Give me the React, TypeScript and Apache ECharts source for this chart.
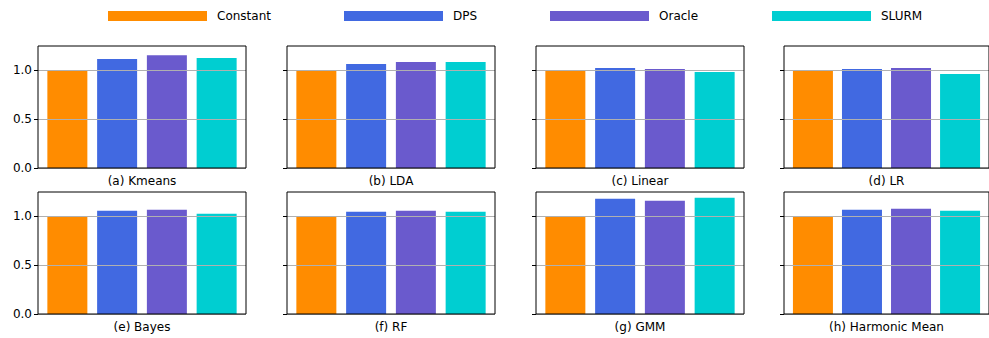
import React, { useEffect, useRef } from "react";
import * as echarts from "echarts";

const methods = ["Constant", "DPS", "Oracle", "SLURM"];
const colors = ["#ff8c00", "#4169e1", "#6a5acd", "#00ced1"];
const panelTitles = [
  "(a) Kmeans",
  "(b) LDA",
  "(c) Linear",
  "(d) LR",
  "(e) Bayes",
  "(f) RF",
  "(g) GMM",
  "(h) Harmonic Mean",
];
const kmeans = [1.0, 1.116, 1.156, 1.126];
const lda = [1.0, 1.065, 1.085, 1.085];
const linear = [1.0, 1.024, 1.014, 0.983];
const lr = [1.0, 1.014, 1.024, 0.963];
const bayes = [1.0, 1.058, 1.068, 1.027];
const rf = [1.0, 1.048, 1.058, 1.048];
const gmm = [1.0, 1.18, 1.16, 1.19];
const harmonic = [1.0, 1.068, 1.078, 1.058];
const panelValues = [kmeans, lda, linear, lr, bayes, rf, gmm, harmonic];
const yTicks = [0, 0.5, 1.0];

const colLefts = [38, 287, 536, 784];
const rowTops = [46, 192];
const gridW = 208;
const gridH = 122;
const legendLefts = [103, 339, 545, 767];

export default function App() {
  const ref = useRef<HTMLDivElement>(null);
  useEffect(() => {
    if (!ref.current) return;
    const chart = echarts.init(ref.current, undefined, { renderer: "svg" });
    const font = "DejaVu Sans";
    const grids: any[] = [];
    const xAxes: any[] = [];
    const yAxes: any[] = [];
    const series: any[] = [];
    panelValues.forEach((vals, p) => {
      const r = Math.floor(p / 4);
      const c = p % 4;
      grids.push({
        left: colLefts[c],
        top: rowTops[r],
        width: gridW,
        height: gridH,
        show: true,
        borderColor: "#000",
        borderWidth: 1,
        backgroundColor: "transparent",
        z: 4,
      });
      xAxes.push({
        type: "value",
        gridIndex: p,
        min: -0.59,
        max: 3.59,
        axisLine: { show: false, onZero: false },
        axisTick: { show: false },
        axisLabel: { show: false },
        splitLine: { show: false },
        name: panelTitles[p],
        nameLocation: "middle",
        nameGap: 7,
        nameTextStyle: { fontFamily: font, fontSize: 12, color: "#000", verticalAlign: "top" },
      });
      yAxes.push({
        type: "value",
        gridIndex: p,
        min: 0,
        max: 1.25,
        interval: 0.5,
        z: 3,
        axisLine: { show: false, onZero: false },
        axisTick: {
          show: true,
          length: 4,
          lineStyle: { color: "#000", width: 1 },
          customValues: yTicks,
        },
        axisLabel: {
          show: c === 0,
          margin: 6,
          fontFamily: font,
          fontSize: 12,
          color: "#000",
          customValues: yTicks,
          formatter: (v: number) => v.toFixed(1),
        },
        splitLine: { show: true, lineStyle: { color: "#b0b0b0", width: 1 } },
      });
      methods.forEach((m, i) => {
        series.push({
          type: "bar",
          name: m,
          xAxisIndex: p,
          yAxisIndex: p,
          barWidth: 40,
          barGap: "-100%",
          z: 2,
          itemStyle: { color: colors[i] },
          data: [[i, vals[i]]],
        });
      });
    });
    const legends = methods.map((m, i) => ({
      data: [m],
      left: legendLefts[i],
      top: 5,
      itemWidth: 99,
      itemHeight: 10,
      icon: "rect",
      itemStyle: { borderWidth: 0 },
      textStyle: { fontFamily: font, fontSize: 12, color: "#000", padding: [0, 0, 0, 5] },
      selectedMode: false,
    }));
    chart.setOption({
      animation: false,
      backgroundColor: "#fff",
      textStyle: { fontFamily: font },
      legend: legends,
      grid: grids,
      xAxis: xAxes,
      yAxis: yAxes,
      series,
    });
    return () => chart.dispose();
  }, []);
  return (
    <div
      ref={ref}
      style={{ position: "fixed", left: 0, top: 0, width: 989, height: 338 }}
    />
  );
}
